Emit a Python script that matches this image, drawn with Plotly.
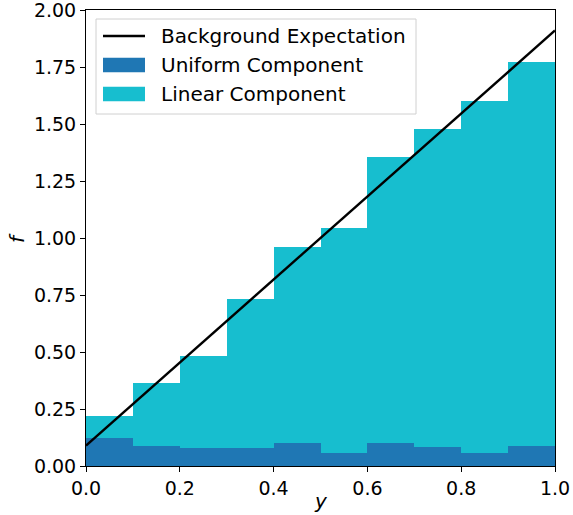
import plotly.graph_objects as go

bin_left = [0.0, 0.1, 0.2, 0.3, 0.4, 0.5, 0.6, 0.7, 0.8, 0.9]
bin_width = 0.1
total = [0.219, 0.364, 0.482, 0.732, 0.960, 1.044, 1.355, 1.478, 1.600, 1.772]
uniform = [0.123, 0.088, 0.079, 0.079, 0.101, 0.058, 0.101, 0.083, 0.058, 0.088]
linear = [t - u for t, u in zip(total, uniform)]
line_x = [0.0, 1.0]
line_y = [0.09, 1.91]
xticks = [0.0, 0.2, 0.4, 0.6, 0.8, 1.0]
xtick_labels = ["0.0", "0.2", "0.4", "0.6", "0.8", "1.0"]
yticks = [0.0, 0.25, 0.5, 0.75, 1.0, 1.25, 1.5, 1.75, 2.0]
ytick_labels = ["0.00", "0.25", "0.50", "0.75", "1.00", "1.25", "1.50", "1.75", "2.00"]
legend_names = ["Background Expectation", "Uniform Component", "Linear Component"]
x_title = "y"
y_title = "f"

UNIFORM_COLOR = "#1f77b4"
LINEAR_COLOR = "#17becf"
font = "DejaVu Sans"

centers = [b + bin_width / 2 for b in bin_left]

W, H = 573, 515
ML, MR, MT, MB = 86, 18, 10, 49
PW, PH = W - ML - MR, H - MT - MB


def px(x):  # figure pixel -> paper x
    return (x - ML) / PW


def py(y):  # figure pixel -> paper y
    return (H - MB - y) / PH


fig = go.Figure()
fig.add_trace(go.Bar(x=centers, y=uniform, width=bin_width, name=legend_names[1],
                     marker=dict(color=UNIFORM_COLOR, line=dict(width=0))))
fig.add_trace(go.Bar(x=centers, y=linear, width=bin_width, name=legend_names[2],
                     marker=dict(color=LINEAR_COLOR, line=dict(width=0))))
fig.add_trace(go.Scatter(x=line_x, y=line_y, mode="lines", name=legend_names[0],
                         line=dict(color="black", width=2.4)))

axis_common = dict(showline=True, linecolor="black", linewidth=1, mirror=True,
                   ticks="outside", ticklen=5, tickwidth=1, tickcolor="black",
                   showgrid=False, zeroline=False, automargin=False,
                   ticklabeloverflow="allow",
                   tickfont=dict(family=font, size=19, color="black"))

# custom matplotlib-style legend, positions in figure pixels
lx0, lx1, ly0, ly1 = 96, 416, 19, 114
sx0, sx1 = 103, 145
tx = 159
rows = [36, 65, 94]
shapes = [
    dict(type="rect", xref="paper", yref="paper", x0=px(lx0), x1=px(lx1), y0=py(ly1), y1=py(ly0),
         line=dict(color="#d0d0d0", width=1), fillcolor="rgba(255,255,255,0.8)", layer="above"),
    dict(type="line", xref="paper", yref="paper", x0=px(sx0), x1=px(sx1), y0=py(rows[0]), y1=py(rows[0]),
         line=dict(color="black", width=2.4), layer="above"),
    dict(type="rect", xref="paper", yref="paper", x0=px(sx0), x1=px(sx1),
         y0=py(rows[1] + 7.3), y1=py(rows[1] - 7.3), line=dict(width=0), fillcolor=UNIFORM_COLOR, layer="above"),
    dict(type="rect", xref="paper", yref="paper", x0=px(sx0), x1=px(sx1),
         y0=py(rows[2] + 7.3), y1=py(rows[2] - 7.3), line=dict(width=0), fillcolor=LINEAR_COLOR, layer="above"),
]
annotations = [
    dict(text=name, xref="paper", yref="paper", x=px(tx), y=py(r), xanchor="left", yanchor="middle",
         showarrow=False, font=dict(family=font, size=20, color="black"))
    for name, r in zip(legend_names, rows)
]
# axis titles (italic, matplotlib mathtext style)
annotations.append(dict(text=f"<i>{x_title}</i>", xref="paper", yref="paper", x=0.5, y=py(501),
                        xanchor="center", yanchor="middle", showarrow=False, borderpad=0,
                        font=dict(family=font, size=20, color="black")))
annotations.append(dict(text=f"<i>{y_title}</i>", xref="paper", yref="paper", x=px(17), y=0.5,
                        xanchor="center", yanchor="middle", showarrow=False, textangle=-90,
                        borderpad=0, font=dict(family=font, size=20, color="black")))

fig.update_layout(
    width=W, height=H,
    margin=dict(l=ML, r=MR, t=MT, b=MB),
    paper_bgcolor="white", plot_bgcolor="white",
    barmode="stack", bargap=0,
    showlegend=False,
    shapes=shapes, annotations=annotations,
    xaxis=dict(range=[0, 1], tickvals=xticks, ticktext=xtick_labels, **axis_common),
    yaxis=dict(range=[0, 2], tickvals=yticks, ticktext=ytick_labels, **axis_common),
)

fig.write_html("out.html", config={"displayModeBar": False},
               post_script="document.body.style.margin='0';document.body.style.overflow='hidden';")
